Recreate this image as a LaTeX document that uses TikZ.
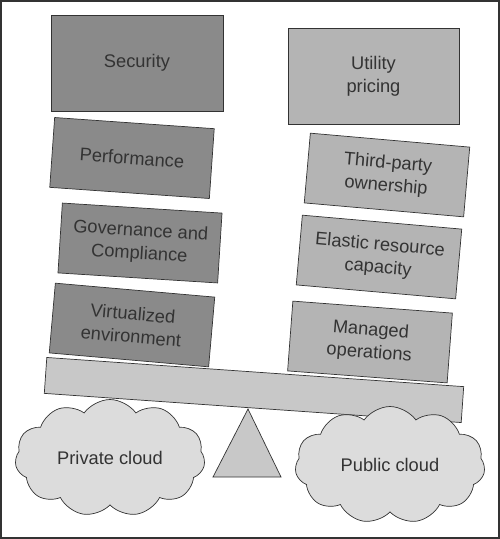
\documentclass[tikz,border=0pt]{standalone}
\usepackage{fontspec}
\setmainfont{Liberation Sans}
\usetikzlibrary{shapes.symbols}
\definecolor{darkbox}{HTML}{8A8A8A}
\definecolor{lightbox}{HTML}{B4B4B4}
\definecolor{plankgray}{HTML}{C8C8C8}
\definecolor{cloudgray}{HTML}{DCDCDC}
\definecolor{inkgray}{HTML}{333333}
\tikzset{
  factor/.style={draw=inkgray,text=inkgray,align=center,inner sep=0pt,
    font=\fontsize{10.4}{13}\selectfont,minimum width=3.2cm,minimum height=1.4cm},
  privfactor/.style={factor,fill=darkbox},
  pubfactor/.style={factor,fill=lightbox},
  cloudy/.style={cloud,cloud puffs=11,cloud puff arc=110,cloud ignores aspect,
    draw=inkgray,fill=cloudgray,text=inkgray,font=\fontsize{10.4}{13}\selectfont,
    minimum width=3.8cm,minimum height=2.34cm}
}
\begin{document}
\begin{tikzpicture}[x=0.02cm,y=-0.02cm]
\useasboundingbox (0,0) rectangle (500,539);
\draw[line width=1.1pt,draw=inkgray] (1,1) rectangle (499,538);
\node[privfactor,minimum width=3.44cm,minimum height=1.92cm] (security) at (137,63) {Security};
\node[pubfactor,minimum width=3.42cm,minimum height=1.92cm] (utility) at (373.5,76) {Utility\\pricing};
\node[privfactor,rotate=-4] (performance) at (132,158) {Performance};
\node[privfactor,rotate=-3.6] (governance) at (140,243) {Governance and\\Compliance};
\node[privfactor,rotate=-5] (virtualized) at (132,325) {Virtualized\\environment};
\node[pubfactor,rotate=-5] (thirdparty) at (387,175) {Third-party\\ownership};
\node[pubfactor,rotate=-5] (elastic) at (379,257) {Elastic resource\\capacity};
\node[pubfactor,rotate=-4.3] (managed) at (370,342) {Managed\\operations};
\draw[draw=inkgray,fill=plankgray] (213,477) -- (281,477) -- (248,409) -- cycle;
\node[draw=inkgray,fill=plankgray,minimum width=8.36cm,minimum height=0.72cm,rotate=-4] (plank) at (254,390) {};
\node[cloudy] (private) at (110,458) {Private cloud};
\node[cloudy] (public) at (390,465) {Public cloud};
\end{tikzpicture}
\end{document}
